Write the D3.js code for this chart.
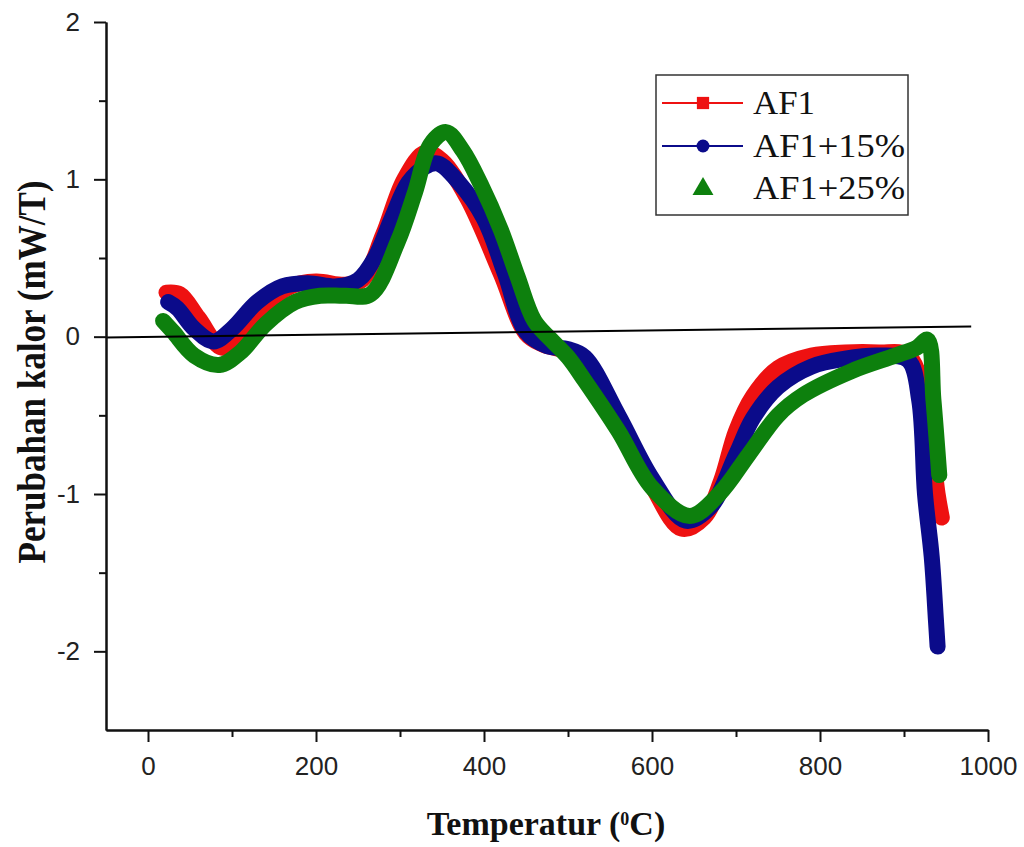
<!DOCTYPE html>
<html lang="en">
<head>
  <meta charset="UTF-8">
  <script src="https://cdn.jsdelivr.net/npm/d3@7"></script>
  <style>
    body { margin: 0; background: #fff; }
  </style>
</head>
<body>
<div id="container"></div>
<script>

// Series data: [temperature, heat change]
const af1 = [
  [22, 0.28], [38, 0.27], [60, 0.12], [88, -0.07], [110, 0.0], [140, 0.2],
  [170, 0.32], [200, 0.35], [235, 0.33], [255, 0.36], [280, 0.65], [305, 1.0],
  [330, 1.17], [350, 1.12], [380, 0.88], [420, 0.4], [450, 0.02], [470, -0.05],
  [500, -0.1], [530, -0.25], [570, -0.65], [600, -0.95], [635, -1.22], [662, -1.15],
  [682, -0.92], [700, -0.6], [720, -0.38], [750, -0.2], [790, -0.12], [830, -0.1],
  [870, -0.1], [905, -0.12], [925, -0.4], [940, -1.0], [945, -1.15]
];

const af1_15 = [
  [24, 0.22], [35, 0.18], [55, 0.05], [78, -0.03], [100, 0.05], [130, 0.22],
  [160, 0.32], [190, 0.34], [225, 0.32], [250, 0.36], [270, 0.5], [290, 0.75],
  [310, 0.98], [330, 1.08], [345, 1.1], [370, 0.98], [400, 0.75], [425, 0.4],
  [450, 0.03], [475, -0.06], [500, -0.08], [520, -0.13], [560, -0.5], [600, -0.9],
  [640, -1.17], [670, -1.08], [700, -0.75], [720, -0.52], [750, -0.32], [790, -0.19],
  [830, -0.14], [870, -0.12], [905, -0.15], [918, -0.4], [925, -1.0], [933, -1.4],
  [938, -1.8], [940, -1.97]
];

const af1_25 = [
  [18, 0.1], [30, 0.03], [55, -0.12], [85, -0.18], [110, -0.1], [140, 0.08],
  [175, 0.22], [205, 0.26], [235, 0.26], [265, 0.27], [297, 0.6], [318, 0.92],
  [336, 1.22], [355, 1.3], [375, 1.18], [396, 0.97], [420, 0.68], [440, 0.38],
  [460, 0.1], [480, -0.02], [500, -0.13], [520, -0.28], [560, -0.6], [600, -0.96],
  [645, -1.14], [680, -1.0], [715, -0.75], [750, -0.5], [780, -0.37], [837, -0.22],
  [890, -0.12], [915, -0.07], [928, -0.02], [935, -0.4], [942, -0.88]
];

// straight reference line drawn across the plot
const baseline = [[-50, -0.005], [980, 0.065]];

const seriesNames = ["AF1", "AF1+15%", "AF1+25%"];
const seriesColors = ["#ee1111", "#0b0b8a", "#0d800d"];

const xMajor = [0, 200, 400, 600, 800, 1000];
const xMinor = [100, 300, 500, 700, 900];
const yMajor = [-2, -1, 0, 1, 2];
const yMinor = [-1.5, -0.5, 0.5, 1.5];

const width = 1024;
const height = 847;

const x = d3.scaleLinear().domain([-50, 1000]).range([106, 988]);
const y = d3.scaleLinear().domain([-2.5, 2]).range([730, 22]);

const svg = d3.create("svg")
    .attr("width", width)
    .attr("height", height)
    .style("background", "#fff");

// curves, drawn as thick bands like the dense markers of the original
const line = d3.line()
    .x(d => x(d[0]))
    .y(d => y(d[1]))
    .curve(d3.curveCatmullRom.alpha(0.5));

[af1, af1_15, af1_25].forEach((data, i) => {
  svg.append("path")
      .datum(data)
      .attr("d", line)
      .attr("fill", "none")
      .attr("stroke", seriesColors[i])
      .attr("stroke-width", 16)
      .attr("stroke-linejoin", "round")
      .attr("stroke-linecap", "round");
});

svg.append("path")
    .datum(baseline)
    .attr("d", d3.line().x(d => x(d[0])).y(d => y(d[1])))
    .attr("stroke", "#000")
    .attr("stroke-width", 2);

// Axes
const tickFont = "'Liberation Sans', Arial, sans-serif";
const plain = d => String(d);

svg.append("g")
    .attr("transform", `translate(0,${y(-2.5)})`)
    .call(d3.axisBottom(x).tickValues(xMajor).tickFormat(plain)
      .tickSize(12).tickPadding(15).tickSizeOuter(0));
svg.append("g")
    .attr("transform", `translate(0,${y(-2.5)})`)
    .call(d3.axisBottom(x).tickValues(xMinor).tickSize(7).tickFormat("").tickSizeOuter(0));

svg.append("g")
    .attr("transform", `translate(${x(-50)},0)`)
    .call(d3.axisLeft(y).tickValues(yMajor).tickFormat(plain)
      .tickSize(12).tickPadding(14).tickSizeOuter(0));
svg.append("g")
    .attr("transform", `translate(${x(-50)},0)`)
    .call(d3.axisLeft(y).tickValues(yMinor).tickSize(7).tickFormat("").tickSizeOuter(0));

svg.selectAll(".domain").attr("stroke", "#111").attr("stroke-width", 2);
svg.selectAll(".tick line").attr("stroke", "#111").attr("stroke-width", 2);
svg.selectAll(".tick text")
    .attr("font-family", tickFont)
    .attr("font-size", 26)
    .attr("fill", "#222");

// Axis titles
svg.append("text")
    .attr("x", 546)
    .attr("y", 835)
    .attr("text-anchor", "middle")
    .attr("font-family", "'Liberation Serif', 'Times New Roman', serif")
    .attr("font-weight", "bold")
    .attr("font-size", 34)
    .attr("fill", "#111")
    .html('Temperatur (<tspan baseline-shift="super" font-size="18">0</tspan>C)');

svg.append("text")
    .attr("transform", "translate(45,372) rotate(-90)")
    .attr("text-anchor", "middle")
    .attr("font-family", "'Liberation Serif', 'Times New Roman', serif")
    .attr("font-weight", "bold")
    .attr("font-size", 40)
    .attr("textLength", 383)
    .attr("lengthAdjust", "spacingAndGlyphs")
    .attr("fill", "#111")
    .text("Perubahan kalor (mW/T)");

// Legend
const legend = svg.append("g");
legend.append("rect")
    .attr("x", 656)
    .attr("y", 75)
    .attr("width", 252)
    .attr("height", 140)
    .attr("fill", "#fff")
    .attr("stroke", "#333")
    .attr("stroke-width", 1.5);

const rowY = [103, 146, 188];
const textLen = [62, 152, 152];
seriesNames.forEach((name, i) => {
  const g = legend.append("g").attr("transform", `translate(0,${rowY[i]})`);
  if (i < 2) {
    g.append("line")
        .attr("x1", 662).attr("x2", 743)
        .attr("stroke", seriesColors[i])
        .attr("stroke-width", 2);
  }
  const sym = [d3.symbolSquare, d3.symbolCircle, d3.symbolTriangle][i];
  const size = [150, 130, 190][i];
  g.append("path")
      .attr("d", d3.symbol(sym, size)())
      .attr("transform", `translate(703,${i === 2 ? 1 : 0})`)
      .attr("fill", seriesColors[i]);
  g.append("text")
      .attr("x", 753)
      .attr("y", 11)
      .attr("font-family", "'Liberation Serif', 'Times New Roman', serif")
      .attr("font-size", 33)
      .attr("textLength", textLen[i])
      .attr("lengthAdjust", "spacingAndGlyphs")
      .attr("fill", "#111")
      .text(name);
});

document.getElementById("container").appendChild(svg.node());

</script>
</body>
</html>
